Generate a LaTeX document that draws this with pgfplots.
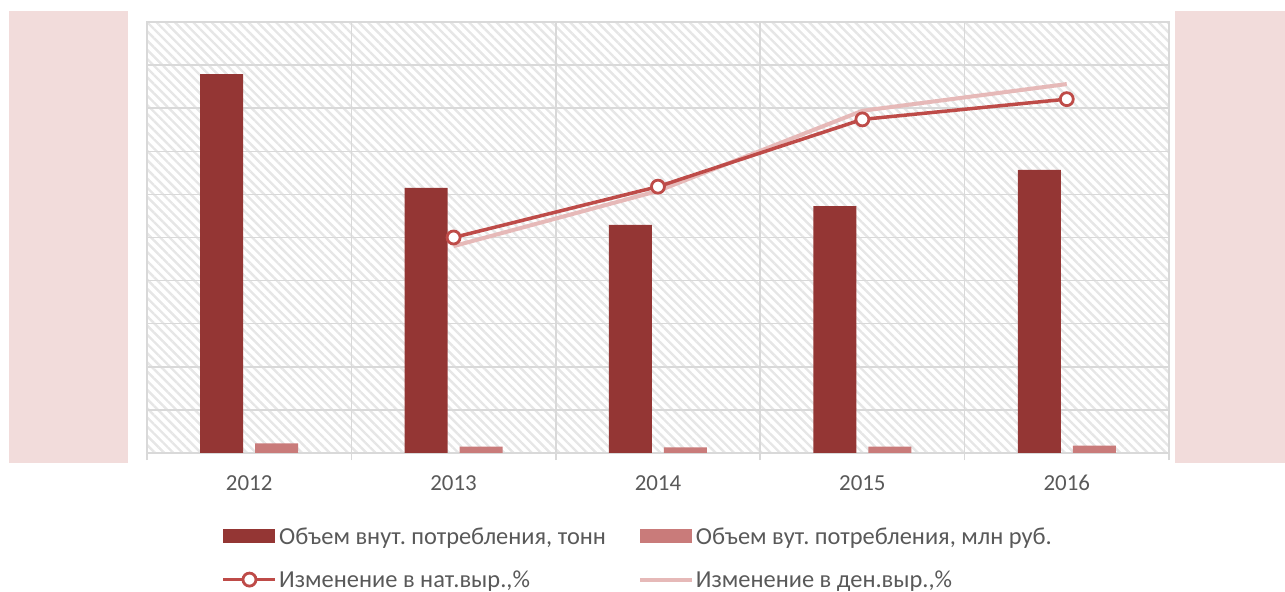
\documentclass[border=0pt]{standalone}
\usepackage{fontspec}
\setmainfont{Carlito}
\usepackage{pgfplots}
\pgfplotsset{compat=1.18}
\usetikzlibrary{patterns.meta}
\definecolor{barA}{HTML}{943634}
\definecolor{barB}{HTML}{C97B7A}
\definecolor{lineA}{HTML}{BE4B48}
\definecolor{lineB}{HTML}{E6B9B8}
\definecolor{gridc}{HTML}{D9D9D9}
\definecolor{hatchc}{HTML}{E6E6E6}
\definecolor{panel}{HTML}{F2DCDB}
\definecolor{txt}{HTML}{595959}
\frenchspacing
\begin{document}
\begin{tikzpicture}
\useasboundingbox (0,0) rectangle (1285bp,592bp);
\fill[panel] (9bp,129bp) rectangle (128bp,581bp);
\fill[panel] (1175bp,129bp) rectangle (1285bp,581bp);
\begin{axis}[
  at={(147bp,139bp)}, anchor=south west,
  scale only axis, width=1022bp, height=431bp,
  xmin=-0.5, xmax=4.5, ymin=0, ymax=10,
  xtick={0,...,4}, xticklabels={2012,2013,2014,2015,2016},
  minor xtick={-0.5,0.5,...,4.5},
  ytick={0,...,10}, yticklabels={},
  xtick pos=left, ytick pos=left,
  major tick length=0pt, minor tick length=7bp, tick align=outside,
  minor tick style={gridc, line width=1.5bp},
  xminorgrids, ymajorgrids,
  grid style={gridc, line width=1.5bp},
  minor grid style={gridc, line width=1.5bp},
  axis line style={gridc, line width=1.5bp},
  axis background/.style={pattern={Lines[angle=-45,distance=6.5bp,line width=2.4bp]}, pattern color=hatchc},
  tick label style={font=\fontsize{23}{27}\selectfont, text=txt},
  xticklabel style={yshift=-19bp},
  legend columns=2,
  legend cell align=left,
  legend style={at={(axis description cs:0.07,-0.163)}, anchor=north west, draw=none, fill=none,
    font=\fontsize{24.5}{29}\selectfont, text=txt,
    /tikz/every even column/.append style={column sep=30bp},
    row sep=21bp},
]
\addplot[ybar, bar width=43bp, bar shift=-27.5bp, fill=barA, draw=none,
  legend image code/.code={\fill[barA] (0bp,-7bp) rectangle (52bp,7bp);}]
  coordinates {(0,8.79)(1,6.15)(2,5.29)(3,5.73)(4,6.57)};
\addplot[ybar, bar width=43bp, bar shift=27.5bp, fill=barB, draw=none,
  legend image code/.code={\fill[barB] (0bp,-7bp) rectangle (52bp,7bp);}]
  coordinates {(0,0.225)(1,0.146)(2,0.13)(3,0.15)(4,0.17)};
\addplot[lineB, line width=4bp, no markers, forget plot]
  coordinates {(1,4.80)(2,6.08)(3,7.94)(4,8.56)};
\addplot[lineA, line width=3.5bp, mark=*, mark size=6.5bp,
  mark options={fill=white, draw=lineA, line width=2.8bp},
  legend image code/.code={\draw[mark repeat=2,mark phase=2] plot coordinates {(0bp,0bp)(26bp,0bp)(52bp,0bp)};}]
  coordinates {(1,5.00)(2,6.18)(3,7.74)(4,8.21)};
\addlegendimage{lineB, line width=4bp, no markers,
  legend image code/.code={\draw (0bp,0bp)--(52bp,0bp);}}
\legend{{Объем внут. потребления, тонн}, {Объем вут. потребления, млн руб.}, {Изменение в нат.выр.,\%}, {Изменение в ден.выр.,\%}}
\end{axis}
\end{tikzpicture}
\end{document}
